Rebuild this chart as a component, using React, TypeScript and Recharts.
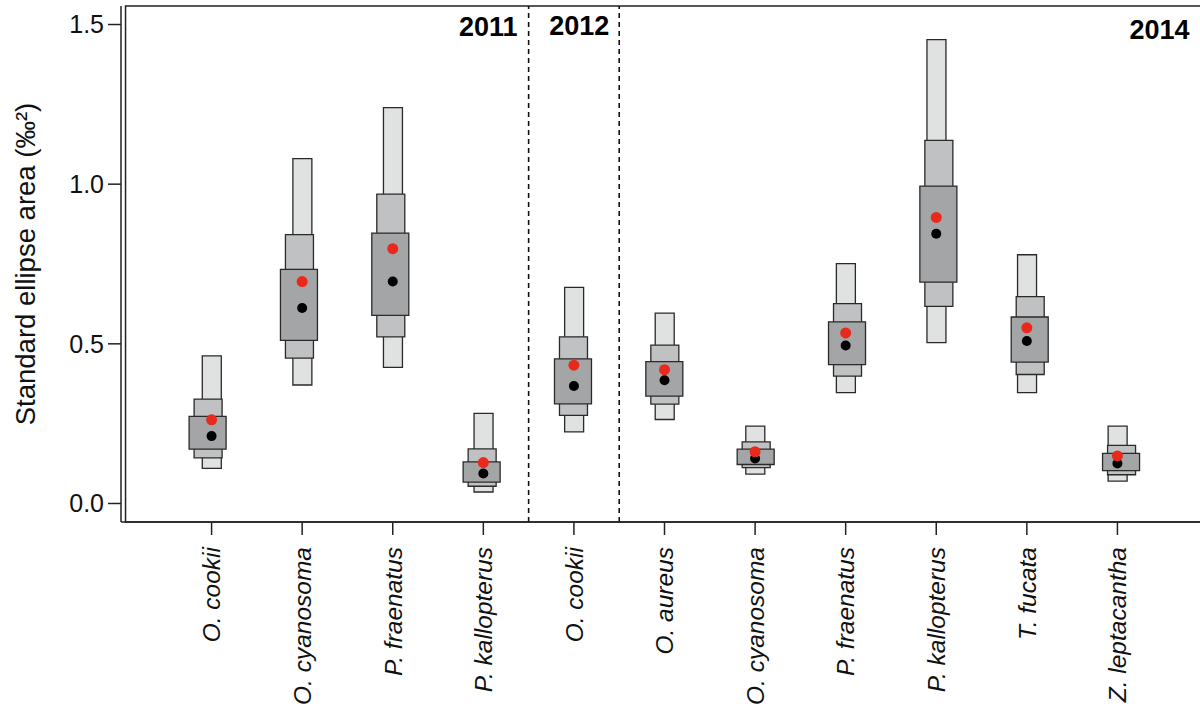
import React from "react";
import {
  ComposedChart,
  Bar,
  Line,
  XAxis,
  YAxis,
  ReferenceLine,
  ReferenceArea,
} from "recharts";

const categories = [
  "O. cookii",
  "O. cyanosoma",
  "P. fraenatus",
  "P. kallopterus",
  "O. cookii",
  "O. aureus",
  "O. cyanosoma",
  "P. fraenatus",
  "P. kallopterus",
  "T. fucata",
  "Z. leptacantha",
];

const lo95 = [0.11, 0.371, 0.426, 0.036, 0.224, 0.263, 0.092, 0.347, 0.504, 0.347, 0.07];
const hi95 = [0.462, 1.08, 1.24, 0.282, 0.677, 0.596, 0.242, 0.751, 1.453, 0.779, 0.242];
const lo75 = [0.143, 0.455, 0.522, 0.054, 0.276, 0.311, 0.112, 0.399, 0.617, 0.404, 0.09];
const hi75 = [0.327, 0.842, 0.969, 0.171, 0.522, 0.496, 0.193, 0.626, 1.137, 0.648, 0.182];
const lo50 = [0.17, 0.511, 0.589, 0.067, 0.312, 0.336, 0.122, 0.435, 0.693, 0.443, 0.103];
const hi50 = [0.273, 0.733, 0.847, 0.13, 0.453, 0.444, 0.17, 0.569, 0.994, 0.584, 0.157];
const blackDot = [0.211, 0.612, 0.695, 0.094, 0.368, 0.386, 0.141, 0.495, 0.845, 0.509, 0.125];
const redDot = [0.262, 0.695, 0.798, 0.128, 0.433, 0.419, 0.162, 0.534, 0.896, 0.55, 0.149];

const yTicks = [0, 0.5, 1.0, 1.5];
const xTicks = categories.map((_, i) => i + 1);
const dividers = [4.5, 5.5];
const years = [
  { label: "2011", from: 0.05, to: 4.5, offset: 11 },
  { label: "2012", from: 4.5, to: 5.5, offset: 10 },
  { label: "2014", from: 5.5, to: 11.95, offset: 14 },
];

const data = categories.map((name, i) => ({
  x: i + 1,
  name,
  r95: [lo95[i], hi95[i]],
  r75: [lo75[i], hi75[i]],
  r50: [lo50[i], hi50[i]],
  black: blackDot[i],
  red: redDot[i],
}));

const FONT = "'Liberation Sans', Arial, Helvetica, sans-serif";
const X_DOMAIN: [number, number] = [0.05, 11.95];
const Y_DOMAIN: [number, number] = [-0.058, 1.558];

const XTick = (props: any) => {
  const { x, y, payload } = props;
  const name = categories[payload.value - 1];
  return (
    <text
      transform={`translate(${x},${y}) rotate(-90)`}
      textAnchor="end"
      dy="0.36em"
      fontFamily={FONT}
      fontSize={24.5}
      fontStyle="italic"
      fill="#111"
    >
      {name}
    </text>
  );
};

const YLabel = (props: any) => {
  const { viewBox } = props;
  const cx = viewBox.x + 25;
  const cy = viewBox.y + viewBox.height / 2;
  return (
    <text
      transform={`translate(${cx},${cy}) rotate(-90)`}
      textAnchor="middle"
      dy="0.36em"
      fontFamily={FONT}
      fontSize={27.5}
      fill="#111"
    >
      Standard ellipse area (‰²)
    </text>
  );
};

export default function App() {
  return (
    <div
      style={{
        position: "absolute",
        left: 0,
        top: 0,
        width: 1200,
        height: 707,
        overflow: "hidden",
        background: "#fff",
      }}
    >
      <ComposedChart
        width={1220}
        height={707}
        data={data}
        margin={{ top: 6, right: 12, left: 0, bottom: 0 }}
      >
        <XAxis
          xAxisId="main"
          dataKey="x"
          type="number"
          domain={X_DOMAIN}
          ticks={xTicks}
          allowDecimals={false}
          height={185}
          tickSize={13}
          tickMargin={12}
          axisLine={{ stroke: "#222", strokeWidth: 1.5 }}
          tickLine={{ stroke: "#222", strokeWidth: 1.5 }}
          tick={<XTick />}
          interval={0}
        />
        <XAxis
          xAxisId="b"
          dataKey="x"
          type="number"
          domain={X_DOMAIN}
          orientation="top"
          height={0}
          hide
        />
        <XAxis
          xAxisId="c"
          dataKey="x"
          type="number"
          domain={X_DOMAIN}
          orientation="top"
          height={0}
          hide
        />
        <YAxis
          type="number"
          domain={Y_DOMAIN}
          ticks={yTicks}
          width={121}
          tickSize={13}
          tickMargin={4}
          tickFormatter={(v: number) => v.toFixed(1)}
          axisLine={{ stroke: "#222", strokeWidth: 1.5 }}
          tickLine={{ stroke: "#222", strokeWidth: 1.5 }}
          tick={{ fontFamily: FONT, fontSize: 25, fill: "#111" }}
          label={<YLabel />}
        />
        <ReferenceArea
          xAxisId="main"
          x1={X_DOMAIN[0]}
          x2={X_DOMAIN[1]}
          y1={Y_DOMAIN[0]}
          y2={Y_DOMAIN[1]}
          fill="none"
          stroke="#222"
          strokeWidth={1.5}
          ifOverflow="visible"
        />
        {dividers.map((d) => (
          <ReferenceLine
            key={d}
            xAxisId="main"
            x={d}
            stroke="#111"
            strokeWidth={1.6}
            strokeDasharray="5 4"
          />
        ))}
        {years.map((yr) => (
          <ReferenceArea
            key={yr.label}
            xAxisId="main"
            x1={yr.from}
            x2={yr.to}
            y1={Y_DOMAIN[0]}
            y2={Y_DOMAIN[1]}
            fill="none"
            stroke="none"
            ifOverflow="visible"
            label={{
              value: yr.label,
              position: "insideTopRight",
              offset: yr.offset,
              fontFamily: FONT,
              fontSize: 27,
              fontWeight: "bold",
              fill: "#000",
            }}
          />
        ))}
        <Bar
          xAxisId="main"
          dataKey="r95"
          barSize={19}
          fill="#e0e1e1"
          stroke="#2a2a2a"
          strokeWidth={1.3}
          isAnimationActive={false}
        />
        <Bar
          xAxisId="b"
          dataKey="r75"
          barSize={28}
          fill="#c0c1c3"
          stroke="#2a2a2a"
          strokeWidth={1.3}
          isAnimationActive={false}
        />
        <Bar
          xAxisId="c"
          dataKey="r50"
          barSize={37}
          fill="#a4a5a7"
          stroke="#2a2a2a"
          strokeWidth={1.3}
          isAnimationActive={false}
        />
        <Line
          xAxisId="main"
          dataKey="black"
          stroke="none"
          dot={{ r: 5, fill: "#000", stroke: "none" }}
          activeDot={false}
          isAnimationActive={false}
        />
        <Line
          xAxisId="main"
          dataKey="red"
          stroke="none"
          dot={{ r: 5.5, fill: "#e8291c", stroke: "none" }}
          activeDot={false}
          isAnimationActive={false}
        />
      </ComposedChart>
    </div>
  );
}
